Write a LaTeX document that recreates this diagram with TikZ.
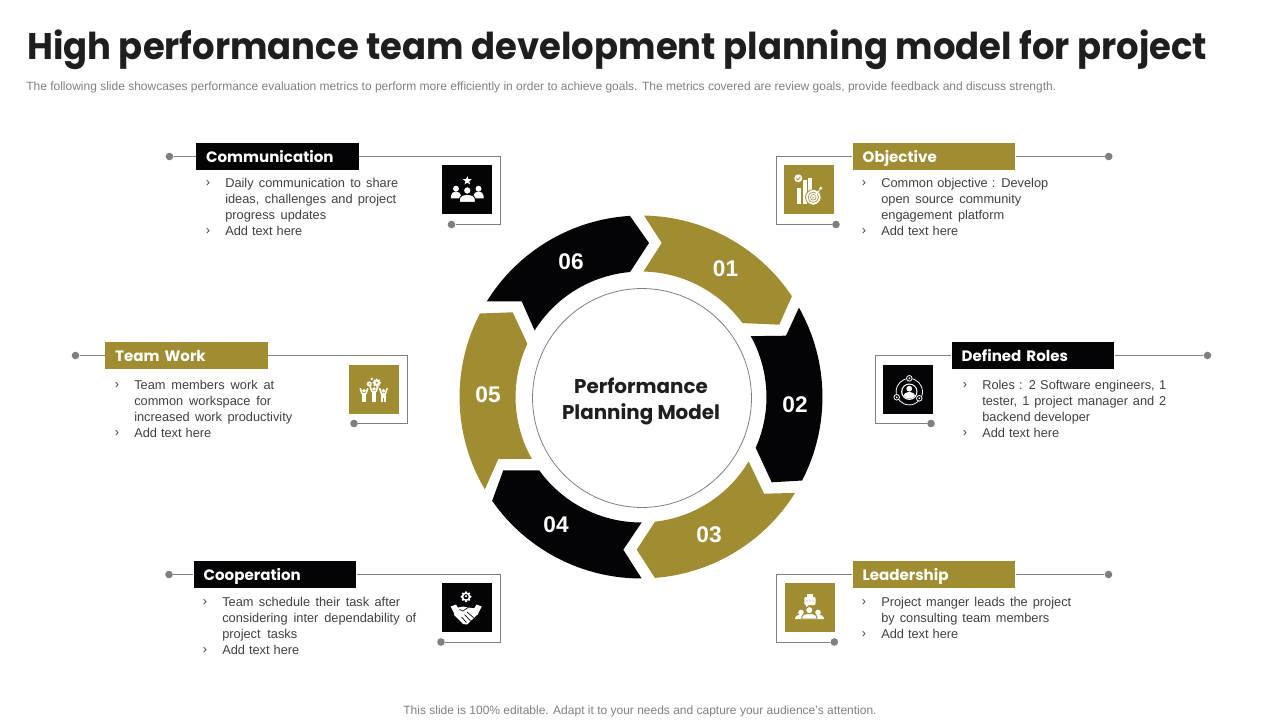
\documentclass[tikz,border=0pt]{standalone}
\usepackage{fontspec}
\usetikzlibrary{shapes.geometric}
\setmainfont{Liberation Sans}
\newfontfamily\geo{Poppins}
\definecolor{gold}{HTML}{A08D32}
\definecolor{ink}{HTML}{040406}
\definecolor{leadgray}{HTML}{7F7F7F}
\definecolor{bodytext}{HTML}{404040}
\definecolor{titleink}{HTML}{1E1E1E}
\newcommand\jline[2]{\makebox[\dimexpr #1pt*3/4\relax][s]{\rule{0pt}{9pt}#2}}
\newcommand\pers[6][none]{% [outline] x,y head centre, head r, half width, bottom y
  \filldraw[fill=white,draw=#1,line width=.7pt] ({#2-#5},-#6) -- ({#2-#5},{-#6+.35*(#6-#3-#4)}) .. controls ({#2-#5},{-#3-#4+1.6}) and ({#2+#5},{-#3-#4+1.6}) .. ({#2+#5},{-#6+.35*(#6-#3-#4)}) -- ({#2+#5},-#6) -- cycle;
  \filldraw[fill=white,draw=#1,line width=.7pt] (#2,-#3) circle (#4);}
\newcommand\gear[3]{% x,y,r
  \fill[white] (#1,-#2) circle (#3);
  \foreach \a in {0,45,...,315}{\fill[white] ([shift={(\a:#3)}]#1,-#2) circle ({#3*.28});}}
\tikzset{
 x=.75pt,y=.75pt,
 headbox/.style={minimum width=122pt,minimum height=20.25pt,inner sep=0pt,text=white,font=\geo\bfseries\fontsize{11.3}{14}\selectfont,align=left,text width=107pt,text height=10pt,text depth=1.3pt},
 iconbox/.style={minimum width=37.5pt,minimum height=36.9pt,inner sep=0pt},
 dotn/.style={circle,fill=leadgray,minimum size=5.7pt,inner sep=0pt},
 leader/.style={draw=leadgray,line width=.75pt},
 listitem/.style={anchor=north west,inner sep=0pt,align=left,text=bodytext,font=\fontsize{9.6}{12}\selectfont},
 bul/.style={anchor=center,inner sep=0pt,text=bodytext,font=\fontsize{9.6}{12}\selectfont},
 num/.style={text=white,inner sep=0pt,font=\bfseries\fontsize{17}{20}\selectfont},
 seg/.style={line width=0pt},
}
\begin{document}
\begin{tikzpicture}
\useasboundingbox (0,0) rectangle (1280,-720);
% title
\node[anchor=base west,inner sep=0pt,text=titleink,font=\geo\bfseries\fontsize{27.8}{32}\selectfont] (title) at (27,-59.5) {\scalebox{.955}[1]{High performance team development planning model for project}};
\node[anchor=west,inner sep=0pt,text=leadgray,font=\fontsize{9}{11}\selectfont] (sub) at (26,-87.7) {The following slide showcases performance evaluation metrics to perform more efficiently in order to  achieve goals. The metrics covered are review goals, provide feedback and discuss strength.};
\node[anchor=center,inner sep=0pt,text=leadgray,font=\fontsize{9}{11}\selectfont] (foot) at (640,-711.7) {This slide is 100\% editable. Adapt it to your needs and capture your audience's attention.};

% ring
\begin{scope}[shift={(641,-397)}]
\def\Ro{136.1pt}\def\Ri{94.1pt}
\fill[gold,seg] (89.05:\Ro) arc[start angle=89.05,end angle=33.75,radius=\Ro] -- (138.3,72.3) -- (36.1:\Ri) arc[start angle=36.1,end angle=88.9,radius=\Ri] -- (20.7,154) -- cycle;
\fill[ink,seg] (29.5:\Ro) arc[start angle=29.5,end angle=-27.4,radius=\Ro] -- (130.7,-85.3) -- (-23.9:\Ri) arc[start angle=-23.9,end angle=29,radius=\Ri] -- (145,61.3) -- cycle;
\fill[gold,seg] (-31.9:\Ro) arc[start angle=-31.9,end angle=-85.6,radius=\Ro] -- (-4.3,-152.7) -- (-83.6:\Ri) arc[start angle=-83.6,end angle=-30.9,radius=\Ri] -- (123,-96.7) -- cycle;
\fill[ink,seg] (-89.8:\Ro) arc[start angle=-89.8,end angle=-145.1,radius=\Ro] -- (-137.7,-73.3) -- (-144.2:\Ri) arc[start angle=-144.2,end angle=-89.7,radius=\Ri] -- (-17.7,-152.7) -- cycle;
\fill[gold,seg] (210.6:\Ro) arc[start angle=210.6,end angle=152.6,radius=\Ro] -- (-128.3,84.7) -- (154.9:\Ri) arc[start angle=154.9,end angle=209.6,radius=\Ri] -- (-142.7,-62) -- cycle;
\fill[ink,seg] (148.2:\Ro) arc[start angle=148.2,end angle=93.5,radius=\Ro] -- (8,154) -- (95:\Ri) arc[start angle=95,end angle=148,radius=\Ri] -- (-119.3,95.7) -- cycle;
\end{scope}
\node[circle,draw=leadgray,line width=.6pt,minimum size=164.2pt,inner sep=0pt] (hub) at (642,-398) {};
\node[inner sep=0pt,align=center,text=titleink,font=\geo\bfseries\fontsize{14.9}{19.5}\selectfont] (hubtext) at (641,-401.5) {Performance\\Planning Model};
\node[num] (n1) at (725.5,-269) {01};
\node[num] (n2) at (795,-405) {02};
\node[num] (n3) at (709,-535) {03};
\node[num] (n4) at (556,-525) {04};
\node[num] (n5) at (488,-395) {05};
\node[num] (n6) at (571,-262) {06};

% Communication
\node[headbox,fill=ink] (hA) at (277.5,-156.5) {Communication};
\node[iconbox,fill=ink] (iA) at (467,-189.5) {};
\node[dotn] (dA1) at (169.5,-156.5) {};
\node[dotn] (dA2) at (451.5,-224.5) {};
\coordinate (cA1) at (500.5,-156.5); \coordinate (cA2) at (500.5,-224.5);
\draw[leader] (dA1) -- (hA);
\draw[leader] (hA) -- (cA1) -- (cA2) -- (dA2);
\node[bul] (bA1) at (208,-184) {›};
\node[listitem] (tA1) at (225,-175.5) {\jline{173}{Daily communication to share}\\\jline{171}{ideas, challenges and project}\\\jline{101}{progress updates}};
\node[bul] (bA2) at (208,-232) {›};
\node[listitem] (tA2) at (225,-223.5) {\jline{77}{Add text here}};
% icon A
\node[star,star points=5,star point ratio=2.4,fill=white,minimum size=7pt,inner sep=0pt] (sA) at (467.3,-180.7) {};
\pers{456}{188.7}{3}{5.2}{198.3}
\pers{478.5}{188.7}{3}{5.2}{198.3}
\pers[ink]{467.3}{190.5}{3.8}{8}{202.3}

% Objective
\node[headbox,fill=gold] (hB) at (934,-156.5) {Objective};
\node[iconbox,fill=gold] (iB) at (809,-189.5) {};
\node[dotn] (dB1) at (1108.7,-156.5) {};
\node[dotn] (dB2) at (836,-224.5) {};
\coordinate (cB1) at (776.7,-156.5); \coordinate (cB2) at (776.7,-224.5);
\draw[leader] (dB1) -- (hB);
\draw[leader] (hB) -- (cB1) -- (cB2) -- (dB2);
\node[bul] (bB1) at (864,-184) {›};
\node[listitem] (tB1) at (881,-175.5) {\jline{167}{Common objective : Develop}\\\jline{140}{open source community}\\\jline{123}{engagement platform}};
\node[bul] (bB2) at (864,-232) {›};
\node[listitem] (tB2) at (881,-223.5) {\jline{77}{Add text here}};
\fill[white] (796.7,-204.3) rectangle (801.3,-188.3);
\fill[white] (803,-204.3) rectangle (806.7,-180);
\fill[white] (808.3,-204.3) rectangle (812.3,-178.3);
\fill[white] (798.3,-178.3) circle (4);
\draw[gold,line width=.6pt] (796.4,-178.3) -- (797.9,-180) -- (800.4,-176.8);
\filldraw[fill=white,draw=gold,line width=.6pt] (813.3,-197.3) circle (7.8);
\draw[gold,line width=.45pt] (813.3,-197.3) circle (5.2) (813.3,-197.3) circle (2.8);
\fill[gold] (813.3,-197.3) circle (1);
\draw[white,line width=.6pt] (813.3,-197.3) -- (820,-189.5);
\fill[white] (820.7,-188.3) circle (1.6);

% Team Work
\node[headbox,fill=gold] (hC) at (186.5,-355.5) {Team Work};
\node[iconbox,fill=gold] (iC) at (374,-389.5) {};
\node[dotn] (dC1) at (75.5,-355.5) {};
\node[dotn] (dC2) at (354,-423.5) {};
\coordinate (cC1) at (407.5,-355.5); \coordinate (cC2) at (407.5,-423.5);
\draw[leader] (dC1) -- (hC);
\draw[leader] (hC) -- (cC1) -- (cC2) -- (dC2);
\node[bul] (bC1) at (117,-386) {›};
\node[listitem] (tC1) at (134,-377.5) {\jline{140}{Team members work at}\\\jline{137}{common workspace for}\\\jline{158}{increased work productivity}};
\node[bul] (bC2) at (117,-434) {›};
\node[listitem] (tC2) at (134,-425.5) {\jline{77}{Add text here}};
\gear{369.3}{384}{2.2}
\gear{376.7}{382.7}{3.4}
\fill[gold] (369.3,-384) circle (.8) (376.7,-382.7) circle (1.2);
\fill[white] (371.7,-379) circle (1.4);
\foreach \px/\py in {364/390.7,374/388.9,383.4/390.7}{
  \fill[white] (\px,-\py) circle (1.9);
  \fill[white] ({\px-2.3},{-\py-2.4}) rectangle ({\px+2.3},{-\py-7});
  \fill[white] ({\px-.2-2.1},{-\py-7}) rectangle ({\px-.3},-401.7);
  \fill[white] ({\px+.3},{-\py-7}) rectangle ({\px+2.3},-401.7);
  \draw[white,line width=1.2pt] ({\px-2},{-\py-3}) -- ({\px-3.8},{-\py+2.5});
  \draw[white,line width=1.2pt] ({\px+2},{-\py-3}) -- ({\px+3.8},{-\py+2.5});
}

% Defined Roles
\node[headbox,fill=ink] (hD) at (1033,-355.5) {Defined Roles};
\node[iconbox,fill=ink] (iD) at (907.7,-389.5) {};
\node[dotn] (dD1) at (1207.5,-355.5) {};
\node[dotn] (dD2) at (931,-423.5) {};
\coordinate (cD1) at (875.7,-355.5); \coordinate (cD2) at (875.7,-423.5);
\draw[leader] (dD1) -- (hD);
\draw[leader] (hD) -- (cD1) -- (cD2) -- (dD2);
\node[bul] (bD1) at (965,-386) {›};
\node[listitem] (tD1) at (982,-377.5) {\jline{184}{Roles : 2 Software engineers, 1}\\\jline{184}{tester, 1 project manager and 2}\\\jline{108}{backend developer}};
\node[bul] (bD2) at (965,-434) {›};
\node[listitem] (tD2) at (982,-425.5) {\jline{77}{Add text here}};
\draw[white,line width=.6pt] (909.3,-391.7) circle (13.2);
\fill[white] (909.3,-391.7) circle (8.2);
\fill[ink] (909.3,-391.7) circle (7);
\begin{scope}
\clip (909.3,-391.7) circle (7);
\pers{909.3}{388.7}{2.9}{5.8}{400}
\end{scope}
\foreach \px/\py in {909.3/378.3,896.7/397.3,919.3/398.3}{
  \fill[ink] (\px,-\py) circle (3.4);
  \draw[white,line width=.6pt] (\px,-\py) circle (2.8);
  \fill[white] (\px,-\py) circle (1);
}

% Cooperation
\node[headbox,fill=ink] (hE) at (275,-574.5) {Cooperation};
\node[iconbox,fill=ink] (iE) at (467.3,-607.8) {};
\node[dotn] (dE1) at (169,-574.5) {};
\node[dotn] (dE2) at (441,-642) {};
\coordinate (cE1) at (500.7,-574.5); \coordinate (cE2) at (500.7,-642);
\draw[leader] (dE1) -- (hE);
\draw[leader] (hE) -- (cE1) -- (cE2) -- (dE2);
\node[bul] (bE1) at (205,-603) {›};
\node[listitem] (tE1) at (222,-594.5) {\jline{178}{Team schedule their task after}\\\jline{194}{considering inter dependability of}\\\jline{75}{project tasks}};
\node[bul] (bE2) at (205,-651) {›};
\node[listitem] (tE2) at (222,-642.5) {\jline{77}{Add text here}};
\gear{466}{596.7}{4.4}
\fill[ink] (466,-596.7) circle (2.6);
\fill[white] (466,-596.2) circle (1.2);
\fill[white] (450.7,-606.5) -- (456,-604.5) -- (460.5,-612) -- (455,-615) -- cycle;
\fill[white] (481.7,-606.5) -- (476.5,-604.5) -- (472,-612) -- (477.5,-615) -- cycle;
\fill[white] (456,-608) -- (463,-606.5) -- (468,-607.5) -- (476,-608.5) -- (478,-614) -- (467,-624.5) -- (463,-624) -- (454,-615) -- cycle;
\draw[ink,line width=.5pt] (468,-607.5) -- (463,-611) -- (459.5,-609.5);
\draw[ink,line width=.5pt] (467,-612) -- (474,-618) (464.5,-614.5) -- (470.5,-621) (461.5,-617) -- (466.5,-622.5);

% Leadership
\node[headbox,fill=gold] (hF) at (934,-574.5) {Leadership};
\node[iconbox,fill=gold] (iF) at (809.7,-607.5) {};
\node[dotn] (dF1) at (1108.5,-574.5) {};
\node[dotn] (dF2) at (834.3,-642) {};
\coordinate (cF1) at (776.7,-574.5); \coordinate (cF2) at (776.7,-642);
\draw[leader] (dF1) -- (hF);
\draw[leader] (hF) -- (cF1) -- (cF2) -- (dF2);
\node[bul] (bF1) at (864,-603) {›};
\node[listitem] (tF1) at (881,-594.5) {\jline{190}{Project manger leads the project}\\\jline{168}{by consulting team members}};
\node[bul] (bF2) at (864,-635) {›};
\node[listitem] (tF2) at (881,-626.5) {\jline{77}{Add text here}};
\fill[white] (806.5,-594) rectangle (813,-598);
\fill[white,rounded corners=.8pt] (804.3,-597) rectangle (815.5,-605);
\fill[white] (806,-604.5) -- (806,-607.5) -- (809,-604.5) -- cycle;
\fill[gold] (807,-601) circle (.6) (810,-601) circle (.6) (813,-601) circle (.6);
\pers{801}{612.5}{2.8}{5.8}{619}
\pers{818}{612.5}{2.8}{5.8}{619}
\pers[gold]{809.3}{610.2}{3.6}{7.5}{619}
\end{tikzpicture}
\end{document}
